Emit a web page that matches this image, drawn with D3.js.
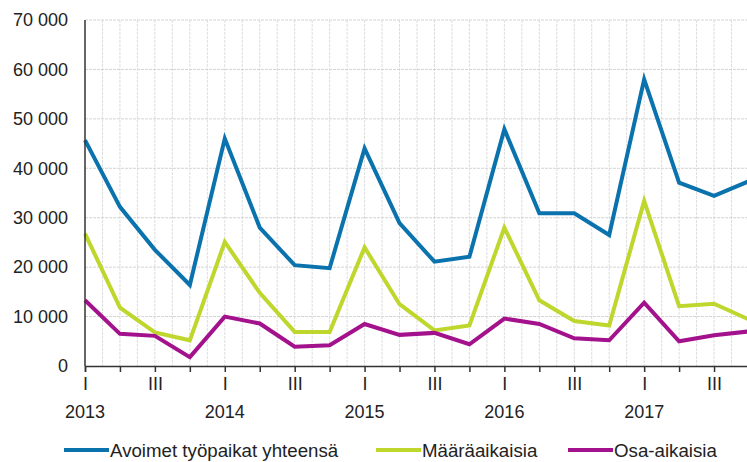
<!DOCTYPE html>
<html>
<head>
<meta charset="utf-8">
<script src="https://cdn.jsdelivr.net/npm/d3@7"></script>
<style>
  body { margin: 0; background: #fff; }
  text { font-family: "Liberation Sans", Arial, sans-serif; fill: #222; }
</style>
</head>
<body>
<div id="chart"></div>
<script>
var svgWidth = 747;
var svgHeight = 462;

var margin = { top: 20, right: -2, bottom: 96, left: 85 };

var width = svgWidth - margin.left - margin.right;
var height = svgHeight - margin.top - margin.bottom;

// data
var years = ["2013", "2014", "2015", "2016", "2017"];
var quarters = ["I", "II", "III", "IV"];
var seriesNames = ["Avoimet työpaikat yhteensä", "Määräaikaisia", "Osa-aikaisia"];
var seriesColors = ["#0a72ad", "#bfd62d", "#a3118c"];

var total = [45700, 32200, 23500, 16400, 46000, 28000, 20400, 19800, 44000, 28900, 21100, 22100,
             47900, 30900, 30900, 26500, 58000, 37100, 34400, 37400];
var fixedTerm = [26800, 11800, 6800, 5200, 25100, 14800, 6900, 6900, 24000, 12500, 7200, 8200,
                 28000, 13300, 9100, 8200, 33400, 12100, 12600, 9400];
var partTime = [13300, 6500, 6100, 1800, 10000, 8600, 3900, 4200, 8500, 6300, 6700, 4400,
                9600, 8500, 5600, 5200, 12800, 5000, 6200, 7000];

var yTicks = [0, 10000, 20000, 30000, 40000, 50000, 60000, 70000];

var periods = [];
years.forEach(function(y) {
  quarters.forEach(function(q) { periods.push(y + " " + q); });
});

var seriesData = [total, fixedTerm, partTime];

var svg = d3.select("#chart")
  .append("svg")
  .attr("width", svgWidth)
  .attr("height", svgHeight);

var chartGroup = svg.append("g")
  .attr("transform", `translate(${margin.left}, ${margin.top})`);

var xScale = d3.scalePoint()
  .domain(periods)
  .range([0, width])
  .padding(0);

var step = xScale.step();

var yScale = d3.scaleLinear()
  .domain([0, 70000])
  .range([height, 0]);

// gridlines
var vGrid = [];
periods.forEach(function(p) {
  vGrid.push(xScale(p));
  vGrid.push(xScale(p) + step / 2);
});

chartGroup.selectAll(".vgrid")
  .data(vGrid.filter(d => d > 0))
  .enter()
  .append("line")
  .attr("x1", d => d)
  .attr("x2", d => d)
  .attr("y1", 0)
  .attr("y2", height)
  .attr("stroke", "#dedede")
  .attr("stroke-dasharray", "3,1");

chartGroup.selectAll(".hgrid")
  .data(yTicks.filter(d => d > 0))
  .enter()
  .append("line")
  .attr("x1", 0)
  .attr("x2", width)
  .attr("y1", d => yScale(d))
  .attr("y2", d => yScale(d))
  .attr("stroke", "#d4d4d4")
  .attr("stroke-dasharray", "3,1");

// y axis labels
var fmt = d3.formatLocale({ decimal: ",", thousands: " ", grouping: [3], currency: ["", " €"] }).format(",d");

chartGroup.selectAll(".ylabel")
  .data(yTicks)
  .enter()
  .append("text")
  .attr("x", -17)
  .attr("y", d => yScale(d))
  .attr("dy", "0.35em")
  .attr("text-anchor", "end")
  .attr("font-size", "18px")
  .text(d => fmt(d));

// lines
var line = d3.line()
  .x((d, i) => xScale(periods[i]))
  .y(d => yScale(d));

seriesData.forEach(function(s, i) {
  chartGroup.append("path")
    .datum(s)
    .attr("fill", "none")
    .attr("stroke", seriesColors[i])
    .attr("stroke-width", 4)
    .attr("stroke-linejoin", "miter")
    .attr("d", line);
});

// axes
var bottomAxis = d3.axisBottom(xScale)
  .tickSize(6)
  .tickPadding(5)
  .tickFormat(function(d) {
    var q = d.split(" ")[1];
    return (q === "I" || q === "III") ? q : "";
  });

var xAxisG = chartGroup.append("g")
  .attr("transform", `translate(0, ${height})`)
  .call(bottomAxis);

xAxisG.select(".domain").attr("stroke", "#333").attr("stroke-width", 1.5);
xAxisG.selectAll(".tick line").attr("stroke", "#333").attr("stroke-width", 1.5);
xAxisG.selectAll(".tick text")
  .attr("font-size", "18px")
  .attr("font-family", "Liberation Sans, Arial, sans-serif")
  .attr("fill", "#222");

chartGroup.append("line")
  .attr("x1", 0).attr("x2", 0)
  .attr("y1", 0).attr("y2", height)
  .attr("stroke", "#333")
  .attr("stroke-width", 1.5);

// year labels
chartGroup.selectAll(".year")
  .data(years)
  .enter()
  .append("text")
  .attr("x", d => xScale(d + " I"))
  .attr("y", height + 52)
  .attr("text-anchor", "middle")
  .attr("font-size", "18px")
  .text(d => d);

// legend
var legendX = [64, 376, 568];
var legend = svg.selectAll(".legend")
  .data(seriesNames)
  .enter()
  .append("g")
  .attr("transform", (d, i) => `translate(${legendX[i]}, 450)`);

legend.append("line")
  .attr("x1", 0).attr("x2", 45)
  .attr("y1", 0).attr("y2", 0)
  .attr("stroke", (d, i) => seriesColors[i])
  .attr("stroke-width", 4);

legend.append("text")
  .attr("x", 46)
  .attr("y", 0)
  .attr("dy", "0.35em")
  .attr("font-size", "18.7px")
  .text(d => d);
</script>
</body>
</html>
